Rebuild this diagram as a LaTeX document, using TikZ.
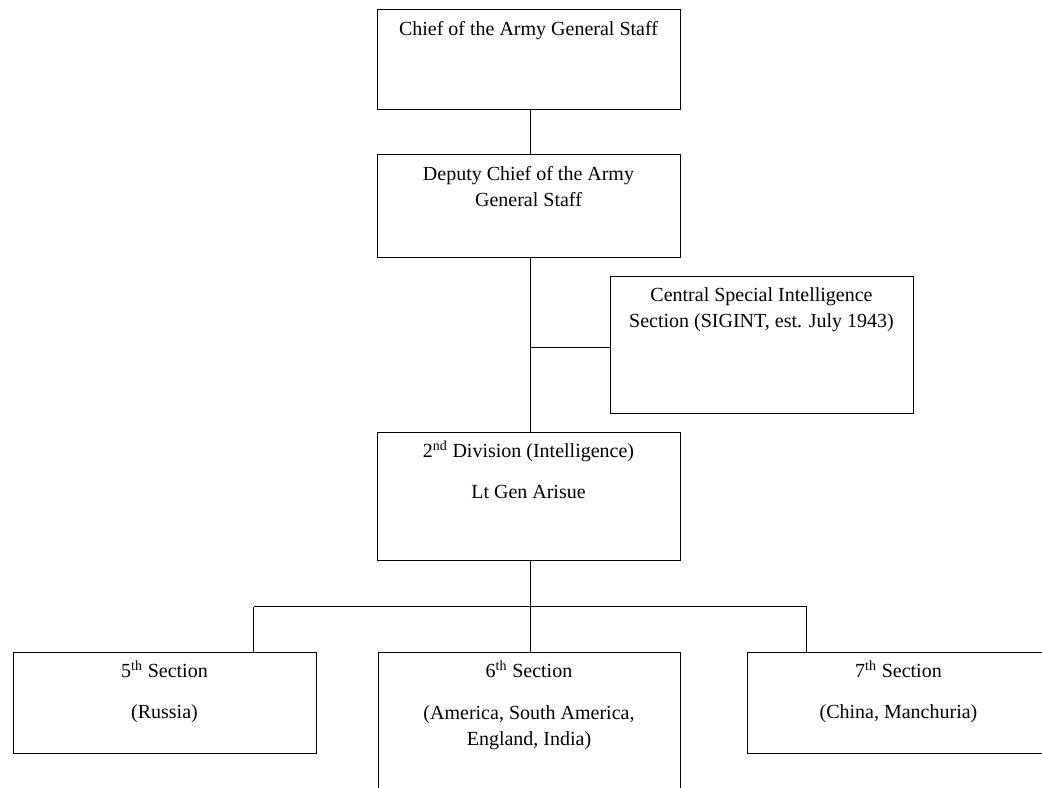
\documentclass[tikz,border=0pt]{standalone}
\usepackage{fontspec}
\setmainfont{Liberation Serif}
\tikzset{
  box/.style={draw, line width=0.75pt, rectangle, inner sep=0pt, anchor=north west, minimum width=227.25pt},
  txt/.style={anchor=north, inner sep=0pt, align=center, font=\fontsize{15}{19}\selectfont},
  conn/.style={line width=0.75pt},
}
\begin{document}
\begin{tikzpicture}[x=0.75pt, y=-0.75pt]
\useasboundingbox (0,0) rectangle (1042,788);
\clip (0,0) rectangle (1042,788);
% boxes
\node[box, minimum height=75pt] (chief) at (376.5,9.5) {};
\node[box, minimum height=76.5pt] (deputy) at (376.5,154.5) {};
\node[box, minimum height=102.75pt] (central) at (609.5,275.5) {};
\node[box, minimum height=96pt] (div2) at (376.5,431.5) {};
\node[box, minimum height=75.75pt] (s5) at (12.5,651.5) {};
\node[box, minimum height=112pt, minimum width=226.5pt] (s6) at (377.5,651.5) {};
\node[box, minimum height=75.75pt] (s7) at (746.5,651.5) {};
% texts
\node[txt] (chiefT) at ([yshift=-6.2pt]chief.north) {\strut Chief of the Army General Staff};
\node[txt] (deputyT) at ([yshift=-6.2pt]deputy.north) {\strut Deputy Chief of the Army\\General Staff};
\node[txt] (centralT) at ([yshift=-6.2pt]central.north) {\strut Central Special Intelligence\\Section (SIGINT, est. July 1943)};
\node[txt] (div2T) at ([yshift=-6.2pt]div2.north) {\strut 2\textsuperscript{nd} Division (Intelligence)\\[11.8pt]Lt Gen Arisue};
\node[txt] (s5T) at ([yshift=-6.2pt]s5.north) {\strut 5\textsuperscript{th} Section\\[11.8pt](Russia)};
\node[txt] (s6T) at ([yshift=-6.2pt]s6.north) {\strut 6\textsuperscript{th} Section\\[12.5pt](America, South America,\\England, India)};
\node[txt] (s7T) at ([yshift=-6.2pt]s7.north) {\strut 7\textsuperscript{th} Section\\[11.8pt](China, Manchuria)};
% connector coordinates
\coordinate (trunk) at (530.5,0);
\coordinate (junc) at (530.5,347.5);
\coordinate (bus5) at (253.5,606.5);
\coordinate (bus6) at (530.5,606.5);
\coordinate (bus7) at (806.5,606.5);
% connectors
\draw[conn] (chief.south -| trunk) -- (deputy.north -| trunk);
\draw[conn] (deputy.south -| trunk) -- (div2.north -| trunk);
\draw[conn] (junc) -- (junc -| central.west);
\draw[conn] (div2.south -| trunk) -- (bus6);
\draw[conn] (bus5) -- (bus7);
\draw[conn] (bus5) -- (bus5 |- s5.north);
\draw[conn] (bus6) -- (bus6 |- s6.north);
\draw[conn] (bus7) -- (bus7 |- s7.north);
\end{tikzpicture}
\end{document}
